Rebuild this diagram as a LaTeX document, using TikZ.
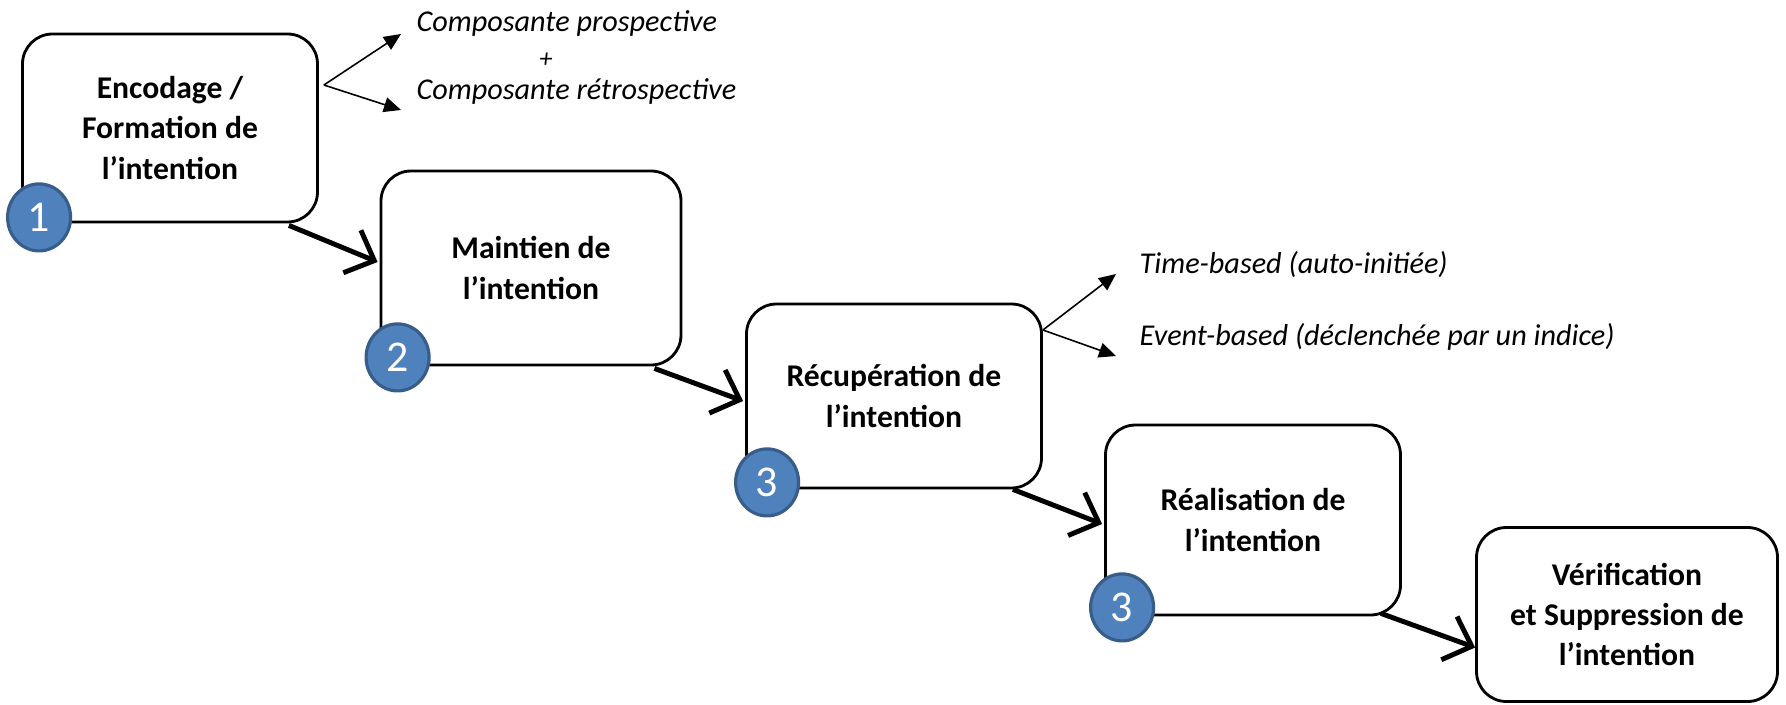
\documentclass[tikz,border=0pt]{standalone}
\usepackage{fontspec}
\setmainfont{Carlito}
\usepackage{tikz}
\usetikzlibrary{arrows.meta,positioning,calc,shapes.geometric}
\definecolor{stepblue}{HTML}{4F81BD}
\definecolor{stepedge}{HTML}{385D8A}

\begin{document}
\begin{tikzpicture}[
  phase/.style={draw=black, line width=0.8pt, rounded corners=3mm, fill=white, minimum width=2.95cm, minimum height=1.88cm, align=center, font=\fontsize{9}{11.5}\selectfont\bfseries},
  badge/.style={ellipse, draw=stepedge, line width=0.9pt, fill=stepblue, text=white, minimum width=0.63cm, minimum height=0.67cm, inner sep=0pt, font=\fontsize{12.5}{14}\selectfont},
  note/.style={inner sep=0pt, anchor=west, font=\fontsize{8.6}{10}\selectfont\itshape},
  flow/.style={-{Straight Barb[length=2.4mm,width=4.6mm,line width=1.4pt]}, line width=1.4pt},
  branch/.style={-{Triangle[length=1.7mm,width=1.5mm]}, line width=0.45pt}
]
  \useasboundingbox (0,0) rectangle (17.86,-7.04);

  % the five phases
  \node[phase] (encode) at (1.70,-1.28) {Encodage /\\Formation de\\l’intention};
  \node[phase, minimum width=3.0cm, minimum height=1.94cm] (keep) at (5.31,-2.68) {Maintien de\\l’intention};
  \node[phase, minimum height=1.84cm] (fetch) at (8.94,-3.96) {Récupération de\\l’intention};
  \node[phase, minimum height=1.90cm] (carry) at (12.53,-5.20) {Réalisation de\\l’intention};
  \node[phase, minimum width=3.01cm, minimum height=1.74cm] (check) at (16.27,-6.145) {Vérification\\et Suppression de\\l’intention};

  % numbered badges
  \node[badge] (n1) at ($(encode.south west)+(0.18,0.06)$) {1};
  \node[badge] (n2) at ($(keep.south west)+(0.18,0.09)$) {2};
  \node[badge] (n3) at ($(fetch.south west)+(0.22,0.07)$) {3};
  \node[badge] (n4) at ($(carry.south west)+(0.18,0.09)$) {3};

  % components of the intention
  \node[note] (prosp) at (4.16,-0.23) {Composante prospective};
  \node[note] (retro) at (4.16,-0.91) {Composante rétrospective};
  \node[note, anchor=center, font=\fontsize{7.5}{8}\selectfont\itshape] (plus) at (5.46,-0.60) {+};
  \coordinate (fork1) at ($(encode.east)+(0.05,0.43)$);
  \draw[branch] (fork1) -- ([shift={(-0.15,-0.11)}]prosp.west);
  \draw[branch] (fork1) -- ([shift={(-0.15,-0.19)}]retro.west);

  % kinds of retrieval
  \node[note] (timeb) at (11.39,-2.65) {Time-based (auto-initiée)};
  \node[note] (eventb) at (11.39,-3.37) {Event-based (déclenchée par un indice)};
  \coordinate (fork2) at ($(fetch.east)+(0,0.66)$);
  \draw[branch] (fork2) -- ([shift={(-0.23,-0.09)}]timeb.west);
  \draw[branch] (fork2) -- ([shift={(-0.23,-0.19)}]eventb.west);

  % sequence between phases
  \draw[flow] ($(encode.south east)+(-0.30,-0.02)$) -- ($(keep.west)+(-0.02,0.06)$);
  \draw[flow] ($(keep.south east)+(-0.28,-0.02)$) -- ($(fetch.west)+(-0.02,-0.05)$);
  \draw[flow] ($(fetch.south east)+(-0.30,0)$) -- ($(carry.west)+(-0.02,-0.04)$);
  \draw[flow] ($(carry.south east)+(-0.21,0.03)$) -- ($(check.west)+(0,-0.33)$);
\end{tikzpicture}
\end{document}
